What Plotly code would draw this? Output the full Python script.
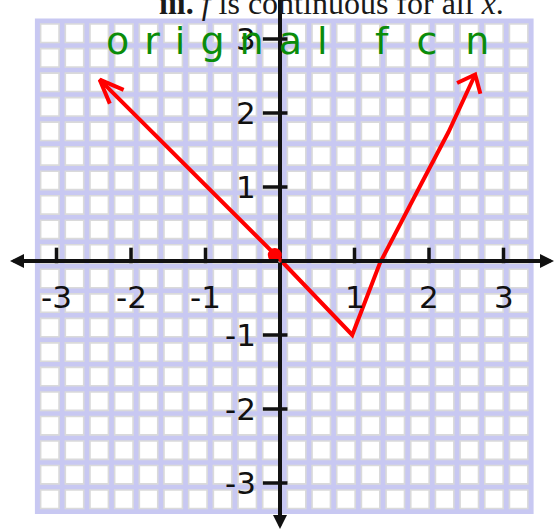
import numpy as np
import plotly.graph_objects as go

# ---- sketched function: traced (x, f(x)) samples ----
curve_x = [-2.42, -1.39, 0.0, 0.97, 1.34, 1.90, 2.26, 2.62]
curve_y = [2.45, 1.41, 0.02, -1.00, -0.03, 1.05, 1.74, 2.52]

# highlighted point near the origin
dot_x = [-0.07]
dot_y = [0.08]

# hand-marked ticks on both axes
tick_vals = [-3, -2, -1, 1, 2, 3]
tick_text = ["-3", "-2", "-1", "1", "2", "3"]

title_text = "<b>iii.</b> <i>f</i> is continuous for all <i>x</i>."
note_words = ["orignal", "fcn"]

# ---- page geometry (pixels) ----
W, H = 555, 531
X0, Y0 = 280.0, 261.0      # pixel position of the origin
UX, UY = 74.5, 74.0        # pixels per unit
GX0, GY0 = 37.5, 21.0      # top-left grid line
PX, PY = 24.675, 24.525    # grid pitch
NCELL = 20

LAVENDER = "#c8c8f2"
CELL_EDGE = "#dadada"
RED = "#ff0000"
GREEN = "#0a8c0a"
INK = "#111111"


def to_px(x, y):
    return X0 + UX * x, Y0 - UY * y


def to_data(px, py):
    return (px - X0) / UX, (Y0 - py) / UY


def chevron(tip_i, back_i, half_angle, length):
    tx, ty = to_px(curve_x[tip_i], curve_y[tip_i])
    bx, by = to_px(curve_x[back_i], curve_y[back_i])
    d = np.array([bx - tx, by - ty])
    d /= np.linalg.norm(d)
    xs, ys = [], []
    for s in (1, -1):
        a = np.radians(s * half_angle)
        rot = np.array([[np.cos(a), -np.sin(a)], [np.sin(a), np.cos(a)]])
        v = rot @ d * length
        px_, py_ = to_data(tx + v[0], ty + v[1])
        xs.append(px_)
        ys.append(py_)
    return [xs[0], curve_x[tip_i], xs[1]], [ys[0], curve_y[tip_i], ys[1]]


fig = go.Figure()

# ---- graph paper (pixel axes x/y) ----
ccx, ccy = np.meshgrid(GX0 + PX * (np.arange(NCELL) + 0.5),
                       GY0 + PY * (np.arange(NCELL) + 0.5))
fig.add_trace(go.Scatter(
    x=ccx.ravel(), y=ccy.ravel(), mode="markers", xaxis="x", yaxis="y",
    marker=dict(symbol="square", size=18.4, color="white",
                line=dict(color=CELL_EDGE, width=1.6)),
    hoverinfo="skip", showlegend=False))

shapes = [dict(type="rect", xref="x", yref="y", layer="below",
               x0=GX0 - 2.6, x1=GX0 + NCELL * PX + 2.6,
               y0=GY0 - 2.6, y1=GY0 + NCELL * PY + 2.6,
               fillcolor=LAVENDER, line=dict(width=0))]

# ---- axes in data units (x2/y2) ----
top_y = to_data(0, 0)[1]
bottom_y = to_data(0, 529)[1]
left_x = to_data(10, 0)[0]
right_x = to_data(554, 0)[0]

fig.add_trace(go.Scatter(x=[0, 0], y=[0, top_y], mode="lines", xaxis="x2", yaxis="y2",
                         line=dict(color=INK, width=4), hoverinfo="skip", showlegend=False))

# tick strokes
tx_, ty_ = [], []
for t in tick_vals:
    tx_ += [t, t, None]
    ty_ += [-0.03, 0.18, None]
fig.add_trace(go.Scatter(x=tx_, y=ty_, mode="lines", xaxis="x2", yaxis="y2",
                         line=dict(color=INK, width=3.5), hoverinfo="skip", showlegend=False))
yx_, yy_ = [], []
for t in tick_vals:
    yx_ += [-0.23, 0.10, None]
    yy_ += [t, t, None]
fig.add_trace(go.Scatter(x=yx_, y=yy_, mode="lines", xaxis="x2", yaxis="y2",
                         line=dict(color=INK, width=3.5), hoverinfo="skip", showlegend=False))

# ---- the sketched function ----
fig.add_trace(go.Scatter(x=curve_x, y=curve_y, mode="lines", xaxis="x2", yaxis="y2",
                         line=dict(color=RED, width=4), hoverinfo="skip", showlegend=False))
for tip_i, back_i, ang, ln in [(0, 1, 22, 26), (-1, -2, 40, 20)]:
    cx_, cy_ = chevron(tip_i, back_i, ang, ln)
    fig.add_trace(go.Scatter(x=cx_, y=cy_, mode="lines", xaxis="x2", yaxis="y2",
                             line=dict(color=RED, width=4), hoverinfo="skip", showlegend=False))
fig.add_trace(go.Scatter(x=dot_x, y=dot_y, mode="markers", xaxis="x2", yaxis="y2",
                         marker=dict(color=RED, size=14), hoverinfo="skip", showlegend=False))

annotations = []
# axis arrows
for (ax_, ay_, x_, y_) in [(0, 0, left_x, 0), (0, 0, right_x, 0), (0, 0, 0, bottom_y)]:
    annotations.append(dict(xref="x2", yref="y2", axref="x2", ayref="y2",
                            x=x_, y=y_, ax=ax_, ay=ay_, text="", showarrow=True,
                            arrowhead=2, arrowsize=0.7, arrowwidth=4, arrowcolor=INK))

label_font = dict(family="DejaVu Sans", size=31, color=INK)
for t, s in zip(tick_vals, tick_text):
    annotations.append(dict(xref="x2", yref="y2", x=t, y=-0.48, text=s, showarrow=False,
                            xanchor="center", yanchor="middle", font=label_font))
    annotations.append(dict(xref="x2", yref="y2", x=-0.30, y=t, text=s, showarrow=False,
                            xanchor="right", yanchor="middle", font=label_font))

# heading line at the top of the page
annotations.append(dict(xref="paper", yref="paper", x=157 / W, y=1 - 2.6 / H,
                        text=title_text, showarrow=False, xanchor="left", yanchor="middle",
                        font=dict(family="Liberation Serif", size=32, color="#1a1a1a")))

# green handwritten note
for word, xp, spacing in zip(note_words, [104, 373], [15, 28]):
    annotations.append(dict(xref="paper", yref="paper", x=xp / W, y=1 - 41 / H,
                            text=f'<span style="letter-spacing:{spacing}px">{word}</span>',
                            showarrow=False, xanchor="left", yanchor="middle",
                            font=dict(family="DejaVu Sans", size=38, color=GREEN)))

fig.update_layout(
    width=W, height=H, margin=dict(l=0, r=0, t=0, b=0),
    paper_bgcolor="white", plot_bgcolor="white",
    xaxis=dict(range=[0, W], visible=False, fixedrange=True),
    yaxis=dict(range=[H, 0], visible=False, fixedrange=True),
    xaxis2=dict(range=[to_data(0, 0)[0], to_data(W, 0)[0]], overlaying="x",
                visible=False, fixedrange=True),
    yaxis2=dict(range=[to_data(0, H)[1], to_data(0, 0)[1]], overlaying="y",
                visible=False, fixedrange=True),
    shapes=shapes, annotations=annotations, showlegend=False,
)

fig.write_html("out.html")
